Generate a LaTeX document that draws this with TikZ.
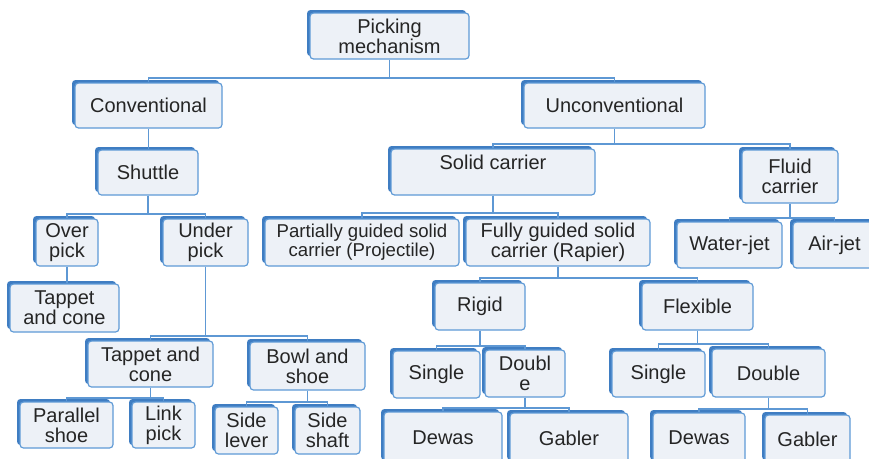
\documentclass[tikz,border=0pt]{standalone}
\usepackage{fontspec}
\setmainfont{Liberation Sans}
\usetikzlibrary{shadows}

\definecolor{boxfill}{HTML}{EDF1F7}
\definecolor{boxline}{HTML}{5F9AD6}
\definecolor{boxshade}{HTML}{3F7DC2}
\definecolor{linkcol}{HTML}{5E98D4}
\definecolor{txt}{HTML}{252525}

\tikzset{
  box/.style={draw=boxline, line width=1.2pt, fill=boxfill, rounded corners=3.5pt,
    inner sep=0pt, align=center, text=txt, font=\fontsize{20}{20}\selectfont,
    general shadow={fill=boxshade, shadow xshift=-3pt, shadow yshift=3pt}},
  smalltext/.style={font=\fontsize{18.6}{19}\selectfont},
  conn/.style={draw=linkcol, line width=1.8pt}
}

% \chartbox[extra]{name}{x1}{y1}{x2}{y2}{text}, pixel-style coordinates
\newcommand\chartbox[7][]{%
  \node[box, #1, minimum width={(#5-#3)*1pt}, minimum height={(#6-#4)*1pt}]
    (#2) at ({(#3+#5)/2},{(#4+#6)/2}) {#7};}

\begin{document}
\begin{tikzpicture}[x=1pt, y=-1pt]
\useasboundingbox (0,0) rectangle (869,458);

% top levels
\chartbox{pm}{310}{13}{469}{59}{Picking\\mechanism}
\chartbox{conv}{75}{83}{222}{128}{Conventional}
\chartbox{unconv}{524}{83}{705}{128}{Unconventional}

% conventional branch
\chartbox{shuttle}{98}{150}{198}{195}{Shuttle}
\chartbox{overpick}{36}{219}{98}{266}{Over\\pick}
\chartbox{underpick}{163}{219}{248}{266}{Under\\pick}
\chartbox{tappetA}{10}{284}{119}{332}{Tappet\\and cone}
\chartbox{tappetB}{88}{341}{213}{387}{Tappet and\\cone}
\chartbox{bowl}{250}{342}{365}{390}{Bowl and\\shoe}
\chartbox{parallel}{20}{402}{113}{448}{Parallel\\shoe}
\chartbox{link}{132}{402}{195}{448}{Link\\pick}
\chartbox{sidelever}{215}{407}{278}{454}{Side\\lever}
\chartbox{sideshaft}{295}{407}{360}{454}{Side\\shaft}

% unconventional branch
\chartbox{solid}{391}{149}{595}{195}{Solid carrier\\\mbox{}}
\chartbox{fluid}{742}{150}{838}{203}{Fluid\\carrier}
\chartbox[smalltext]{partial}{265}{219}{459}{266}{Partially guided solid\\carrier (Projectile)}
\chartbox{fully}{466}{219}{650}{266}{Fully guided solid\\carrier (Rapier)}
\chartbox{water}{677}{222}{782}{268}{Water-jet}
\chartbox{air}{793}{222}{876}{268}{Air-jet}
\chartbox{rigid}{435}{283}{525}{330}{Rigid}
\chartbox{flexible}{642}{283}{753}{330}{Flexible}
\chartbox{singleA}{393}{351}{480}{398}{Single}
\chartbox{doubleA}{485}{350}{565}{397}{Doubl\\e}
\chartbox{singleB}{612}{351}{705}{397}{Single}
\chartbox{doubleB}{712}{349}{825}{397}{Double}
\chartbox{dewasA}{384}{412}{502}{463}{Dewas}
\chartbox{gablerA}{510}{413}{628}{463}{Gabler}
\chartbox{dewasB}{653}{413}{745}{463}{Dewas}
\chartbox{gablerB}{765}{415}{850}{463}{Gabler}

% connectors: down from the parent, across, and down into each child
\draw[conn] (pm.south) -- ++(0,18) -| (conv.north);
\draw[conn] (pm.south) -- ++(0,18) -| (unconv.north);
\draw[conn] (conv.south) -- (conv.south |- shuttle.north);
\draw[conn] (shuttle.south) -- ++(0,18) -| (overpick.north);
\draw[conn] (shuttle.south) -- ++(0,18) -| (underpick.north);
\draw[conn] (overpick.south) -- (overpick.south |- tappetA.north);
\draw[conn] (underpick.south) -- ++(0,69) -| (tappetB.north);
\draw[conn] (underpick.south) -- ++(0,69) -| (bowl.north);
\draw[conn] (tappetB.south) -- ++(0,10) -| (parallel.north);
\draw[conn] (tappetB.south) -- ++(0,10) -| (link.north);
\draw[conn] (bowl.south) -- ++(0,11) -| (sidelever.north);
\draw[conn] (bowl.south) -- ++(0,11) -| (sideshaft.north);

\draw[conn] (unconv.south) -- ++(0,15) -| (solid.north);
\draw[conn] (unconv.south) -- ++(0,15) -| (fluid.north);
\draw[conn] (solid.south) -- ++(0,17) -| (partial.north);
\draw[conn] (solid.south) -- ++(0,17) -| (fully.north);
\draw[conn] (fluid.south) -- ++(0,14) -| (water.north);
\draw[conn] (fluid.south) -- ++(0,14) -| (air.north);
\draw[conn] (fully.south) -- ++(0,11) -| (rigid.north);
\draw[conn] (fully.south) -- ++(0,11) -| (flexible.north);
\draw[conn] (rigid.south) -- ++(0,15) -| (singleA.north);
\draw[conn] (rigid.south) -- ++(0,15) -| (doubleA.north);
\draw[conn] (flexible.south) -- ++(0,13) -| (singleB.north);
\draw[conn] (flexible.south) -- ++(0,13) -| (doubleB.north);
\draw[conn] (doubleA.south) -- ++(0,10) -| (dewasA.north);
\draw[conn] (doubleA.south) -- ++(0,10) -| (gablerA.north);
\draw[conn] (doubleB.south) -- ++(0,11) -| (dewasB.north);
\draw[conn] (doubleB.south) -- ++(0,11) -| (gablerB.north);
\end{tikzpicture}
\end{document}
